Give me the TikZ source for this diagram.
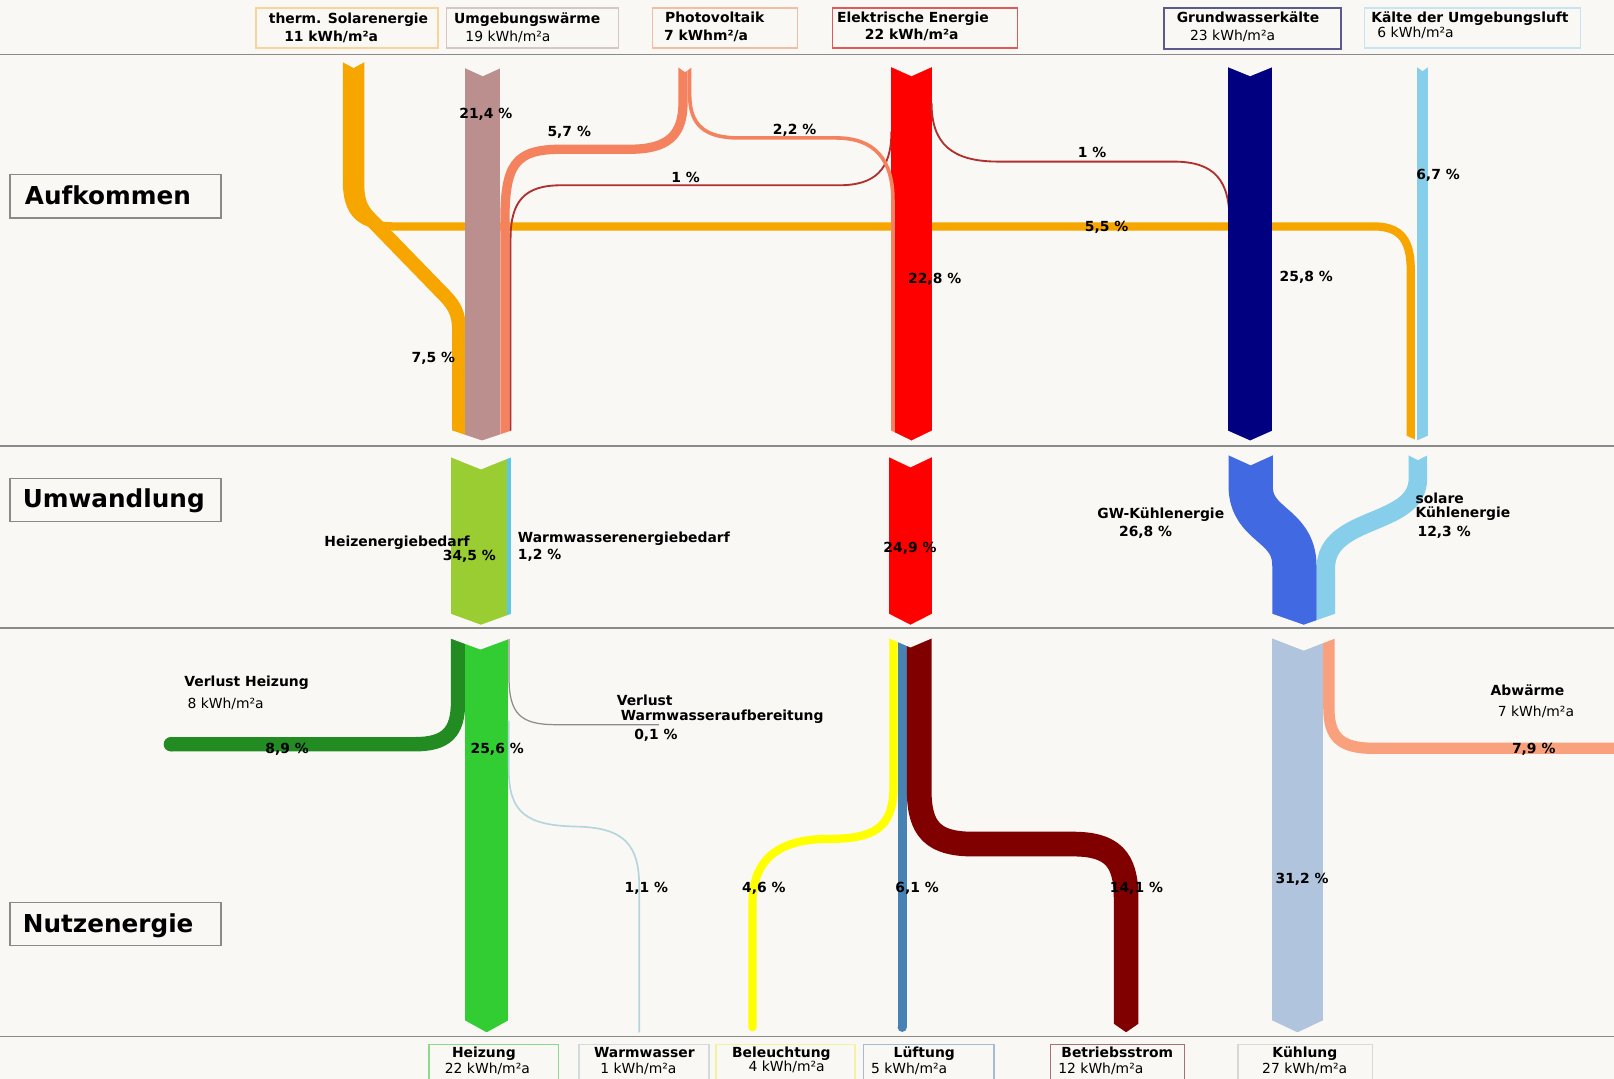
\documentclass[tikz,border=0pt]{standalone}
\usepackage{fontspec}
\setmainfont{DejaVu Sans}
\definecolor{cBg}{HTML}{F9F8F4}
\definecolor{cSep}{HTML}{8A8A8A}
\definecolor{cSolar}{HTML}{F7A600}
\definecolor{cUmg}{HTML}{BC8F8F}
\definecolor{cPV}{HTML}{F4825E}
\definecolor{cEl}{HTML}{FF0000}
\definecolor{cElThin}{HTML}{B03030}
\definecolor{cGW}{HTML}{000080}
\definecolor{cLuft}{HTML}{87CEEB}
\definecolor{cHeizB}{HTML}{9ACD32}
\definecolor{cWWB}{HTML}{5CC8E6}
\definecolor{cGWK}{HTML}{4169E1}
\definecolor{cVerlH}{HTML}{228B22}
\definecolor{cHeiz}{HTML}{32CD32}
\definecolor{cVerlWW}{HTML}{8C8C8C}
\definecolor{cWW}{HTML}{B5D5DC}
\definecolor{cBel}{HTML}{FFFF00}
\definecolor{cLueft}{HTML}{4682B4}
\definecolor{cBetr}{HTML}{800000}
\definecolor{cKuehl}{HTML}{B0C4DE}
\definecolor{cAbw}{HTML}{F9A07C}
\definecolor{cBoxA}{HTML}{F8D49A}
\definecolor{cBoxB}{HTML}{D6C6C6}
\definecolor{cBoxC}{HTML}{F5BCA5}
\definecolor{cBoxD}{HTML}{E05A5A}
\definecolor{cBoxE}{HTML}{5A5A8C}
\definecolor{cBoxF}{HTML}{C8E4F2}
\definecolor{cBoxG}{HTML}{8ED88E}
\definecolor{cBoxH}{HTML}{D0DCDC}
\definecolor{cBoxI}{HTML}{F2F2A0}
\definecolor{cBoxJ}{HTML}{A8BCD0}
\definecolor{cBoxK}{HTML}{A87070}
\definecolor{cBoxL}{HTML}{D8D8D8}
\newcommand{\sknotch}[4]{\fill[cBg] (#1-0.6,#3-1) -- (#2+0.6,#3-1) -- (#2+0.6,#3) -- ({(#1+#2)/2},#3+#4) -- (#1-0.6,#3) -- cycle;}
\newcommand{\sktip}[4]{%
  \fill[cBg] (#1-1,#3) -- ({(#1+#2)/2},#4) -- ({(#1+#2)/2},#4+3) -- (#1-1,#4+3) -- cycle;
  \fill[cBg] (#2+1,#3) -- ({(#1+#2)/2},#4) -- ({(#1+#2)/2},#4+3) -- (#2+1,#4+3) -- cycle;}
\begin{document}
\begin{tikzpicture}[x=1pt,y=-1pt,
  lbl/.style={inner sep=0pt, font=\bfseries\fontsize{13.5}{16}\selectfont, anchor=base west},
  reg/.style={inner sep=0pt, font=\fontsize{13.5}{16}\selectfont, anchor=base west},
  pct/.style={inner sep=0pt, font=\bfseries\fontsize{13.5}{16}\selectfont, anchor=base},
  sec/.style={inner sep=0pt, font=\bfseries\fontsize{24}{28}\selectfont, anchor=base west},
  boxx/.style={draw, line width=1.3pt, inner sep=0pt, anchor=north west},
  band/.style={line cap=butt, line join=round}]
\useasboundingbox (0,0) rectangle (1568,1048);
\fill[cBg] (0,0) rectangle (1568,1048);

% ---------------- Aufkommen ----------------
\fill[cSolar] (333,60) rectangle (354,182);
\draw[band, cSolar, line width=8pt] (337,60) -- (337,175) .. controls (337,208) and (350,220) .. (385,220) -- (1335,220) .. controls (1362,220) and (1370.5,235) .. (1370.5,262) -- (1370.5,428);
\draw[band, cSolar, line width=13.5pt] (347.25,60) -- (347.25,180) .. controls (347.25,198) and (352,205) .. (362,215) -- (428,283) .. controls (440,295) and (446,302) .. (446,322) -- (446,428);
\fill[cUmg] (452,66) rectangle (486,428);
\draw[band, cPV, line width=9pt] (490.5,428) -- (490.5,215) .. controls (490.5,160) and (500,145) .. (545,145) -- (612,145) .. controls (648,145) and (663.5,132) .. (663.5,100) -- (663.5,65);
\draw[band, cElThin, line width=1.8pt] (866,128) .. controls (866,165) and (850,180) .. (815,180) -- (545,180) .. controls (510,180) and (496,195) .. (496,232) -- (496,428);
\fill[cEl] (866,65) rectangle (905,428);
\draw[band, cPV, line width=3.5pt] (670,65) -- (670,92) .. controls (670,122) and (685,134) .. (718,134) -- (812,134) .. controls (850,134) and (867.5,155) .. (867.5,195) -- (867.5,428);
\draw[band, cElThin, line width=1.8pt] (905,100) .. controls (905,140) and (925,157) .. (970,157) -- (1140,157) .. controls (1180,157) and (1194.5,175) .. (1194.5,215) -- (1194.5,300);
\fill[cGW] (1193,65) rectangle (1236,428);
\fill[cLuft] (1377,65) rectangle (1387,428);
\sknotch{333}{354}{60}{6}
\sknotch{452}{486}{66}{8}
\sknotch{659}{672}{65}{5}
\sknotch{866}{905}{65}{9}
\sknotch{1193}{1236}{65}{9}
\sknotch{1377}{1387}{65}{4}
\sktip{439.5}{497}{418}{428}
\sktip{866}{905}{418}{428}
\sktip{1193}{1236}{418}{428}
\sktip{1366.5}{1387}{423}{428}

% ---------------- Umwandlung ----------------
\fill[cHeizB] (438,444) rectangle (493,607);
\fill[cWWB] (493,444) rectangle (496.5,607);
\fill[cEl] (864,444) rectangle (905,607);
\draw[band, cLuft, line width=18pt] (1377.5,442) -- (1377.5,465) .. controls (1377.5,512) and (1288,500) .. (1288,552) -- (1288,607);
\draw[band, cGWK, line width=43pt] (1215,442) -- (1215,472) .. controls (1215,512) and (1257.5,508) .. (1257.5,550) -- (1257.5,607);
\sknotch{438}{496.5}{444}{12}
\sknotch{864}{905}{444}{10}
\sknotch{1193.5}{1236.5}{442}{10}
\sknotch{1368.5}{1386.5}{442}{5}
\sktip{438}{496.5}{596}{607}
\sktip{864}{905}{596}{607}
\sktip{1236}{1297}{596}{607}

% ---------------- Nutzenergie ----------------
\draw[band, cVerlH, line width=14pt] (445,620) -- (445,682) .. controls (445,712) and (433,723) .. (403,723) -- (166,723);
\fill[cVerlH] (166,723) circle[radius=7pt];
\fill[cHeiz] (452,620) rectangle (493.5,1003);
\draw[band, cVerlWW, line width=1.2pt] (494.5,620) -- (494.5,658) .. controls (494.5,694) and (506,704) .. (540,704) -- (640,704);
\draw[band, cWW, line width=1.6pt] (494.3,700) -- (494.3,748) .. controls (494.3,790) and (512,802) .. (560,803) .. controls (608,804) and (621,822) .. (621,862) -- (621,1003);
\draw[band, cBel, line width=8pt] (868,620) -- (868,765) .. controls (868,805) and (848,815) .. (805,815) .. controls (756,815) and (731,835) .. (731,878) -- (731,998);
\fill[cBel] (731,998) circle[radius=4pt];
\draw[band, cLueft, line width=9pt] (876.5,620) -- (876.5,998);
\fill[cLueft] (876.5,998) circle[radius=4.5pt];
\draw[band, cBetr, line width=24pt] (893,620) -- (893,768) .. controls (893,806) and (907,820) .. (945,820) -- (1042,820) .. controls (1080,820) and (1094,834) .. (1094,872) -- (1094,1003);
\fill[cKuehl] (1236,620) rectangle (1285,1003);
\draw[band, cAbw, line width=11pt] (1291,620) -- (1291,688) .. controls (1291,717) and (1303,727) .. (1335,727) -- (1570,727);
\sknotch{437.5}{496}{620}{11}
\sknotch{864}{905}{620}{9}
\sknotch{1236}{1297}{620}{12}
\sktip{452}{493.5}{991}{1003}
\sktip{1082}{1106}{994}{1003}
\sktip{1236}{1285}{991}{1003}

% ---------------- separators ----------------
\foreach \yy in {53,433,610,1007} \draw[cSep, line width=1.8pt] (0,\yy) -- (1568,\yy);

% ---------------- section boxes ----------------
\node[boxx, draw=cSep, minimum width=205pt, minimum height=42pt] (secA) at (9,169) {};
\node[boxx, draw=cSep, minimum width=205pt, minimum height=42pt] (secU) at (9,464) {};
\node[boxx, draw=cSep, minimum width=205pt, minimum height=42pt] (secN) at (9,876) {};
\node[sec] (tA) at (24,198.5) {Aufkommen};
\node[sec] (tU) at (22,493.5) {Umwandlung};
\node[sec] (tN) at (22,905.5) {Nutzenergie};

% ---------------- top boxes ----------------
\node[boxx, draw=cBoxA, minimum width=177pt, minimum height=39pt] (bSol) at (248,7) {};
\node[boxx, draw=cBoxB, minimum width=167pt, minimum height=39pt] (bUmg) at (433,7) {};
\node[boxx, draw=cBoxC, minimum width=141pt, minimum height=39pt] (bPV) at (633,7) {};
\node[boxx, draw=cBoxD, minimum width=180pt, minimum height=39pt] (bEl) at (808,7) {};
\node[boxx, draw=cBoxE, minimum width=172pt, minimum height=40pt] (bGW) at (1130,7) {};
\node[boxx, draw=cBoxF, minimum width=210pt, minimum height=39pt] (bLuft) at (1325,7) {};
\node[lbl] (tSol1) at (261,23) {therm. Solarenergie};
\node[lbl] (tSol2) at (276,40) {11 kWh/m²a};
\node[lbl] (tUmg1) at (441,23) {Umgebungswärme};
\node[reg] (tUmg2) at (452,40) {19 kWh/m²a};
\node[lbl] (tPV1) at (646,22) {Photovoltaik};
\node[lbl] (tPV2) at (645,39) {7 kWhm²/a};
\node[lbl] (tEl1) at (813,22) {Elektrische Energie};
\node[lbl] (tEl2) at (840,38) {22 kWh/m²a};
\node[lbl] (tGW1) at (1143,22) {Grundwasserkälte};
\node[reg] (tGW2) at (1156,39) {23 kWh/m²a};
\node[lbl] (tLuft1) at (1332,22) {Kälte der Umgebungsluft};
\node[reg] (tLuft2) at (1338,36) {6 kWh/m²a};

% ---------------- bottom boxes ----------------
\node[boxx, draw=cBoxG, minimum width=126pt, minimum height=38pt] (bHz) at (416,1014) {};
\node[boxx, draw=cBoxH, minimum width=126pt, minimum height=38pt] (bWW) at (562,1014) {};
\node[boxx, draw=cBoxI, minimum width=135pt, minimum height=38pt] (bBel) at (695,1014) {};
\node[boxx, draw=cBoxJ, minimum width=127pt, minimum height=38pt] (bLf) at (838,1014) {};
\node[boxx, draw=cBoxK, minimum width=130pt, minimum height=38pt] (bBs) at (1020,1014) {};
\node[boxx, draw=cBoxL, minimum width=131pt, minimum height=38pt] (bKl) at (1202,1014) {};
\node[lbl] (tHz1) at (439,1027) {Heizung};
\node[reg] (tHz2) at (432,1043) {22 kWh/m²a};
\node[lbl] (tWW1) at (577,1027) {Warmwasser};
\node[reg] (tWW2) at (583,1043) {1 kWh/m²a};
\node[lbl] (tBel1) at (711,1027) {Beleuchtung};
\node[reg] (tBel2) at (727,1041) {4 kWh/m²a};
\node[lbl] (tLf1) at (868,1027) {Lüftung};
\node[reg] (tLf2) at (846,1043) {5 kWh/m²a};
\node[lbl] (tBs1) at (1031,1027) {Betriebsstrom};
\node[reg] (tBs2) at (1028,1043) {12 kWh/m²a};
\node[lbl] (tKl1) at (1236,1027) {Kühlung};
\node[reg] (tKl2) at (1226,1043) {27 kWh/m²a};

% ---------------- flow labels ----------------
\node[pct] (p1) at (472,115) {21,4 \%};
\node[pct] (p2) at (553,133) {5,7 \%};
\node[pct] (p3) at (772,131) {2,2 \%};
\node[pct] (p4) at (666,177) {1 \%};
\node[pct] (p5) at (1061,153) {1 \%};
\node[pct] (p6) at (1075,225) {5,5 \%};
\node[pct] (p7) at (908,275) {22,8 \%};
\node[pct] (p8) at (1269,273) {25,8 \%};
\node[pct] (p9) at (421,352) {7,5 \%};
\node[pct] (p10) at (1397,174) {6,7 \%};

\node[lbl] (lHB) at (315,531) {Heizenergiebedarf};
\node[pct] (p11) at (456,545) {34,5 \%};
\node[lbl] (lWWB) at (503,527) {Warmwasserenergiebedarf};
\node[lbl] (p12) at (503,544) {1,2 \%};
\node[pct] (p13) at (884,537) {24,9 \%};
\node[lbl] (lGWK) at (1066,504) {GW-Kühlenergie};
\node[lbl] (p14) at (1087,521) {26,8 \%};
\node[lbl] (lSol1) at (1375,489) {solare};
\node[lbl] (lSol2) at (1375,503) {Kühlenergie};
\node[lbl] (p15) at (1377,521) {12,3 \%};

\node[lbl] (lVH1) at (179,667) {Verlust Heizung};
\node[reg] (lVH2) at (182,688) {8 kWh/m²a};
\node[pct] (p16) at (279,732) {8,9 \%};
\node[pct] (p17) at (483,732) {25,6 \%};
\node[lbl] (lVW1) at (599,685) {Verlust};
\node[lbl] (lVW2) at (603,700) {Warmwasseraufbereitung};
\node[lbl] (p18) at (616,718) {0,1 \%};
\node[pct] (p19) at (628,867) {1,1 \%};
\node[pct] (p20) at (742,867) {4,6 \%};
\node[pct] (p21) at (891,867) {6,1 \%};
\node[pct] (p22) at (1104,867) {14,1 \%};
\node[pct] (p23) at (1265,858) {31,2 \%};
\node[lbl] (lAbw1) at (1448,676) {Abwärme};
\node[reg] (lAbw2) at (1455,696) {7 kWh/m²a};
\node[pct] (p24) at (1490,732) {7,9 \%};
\end{tikzpicture}
\end{document}
